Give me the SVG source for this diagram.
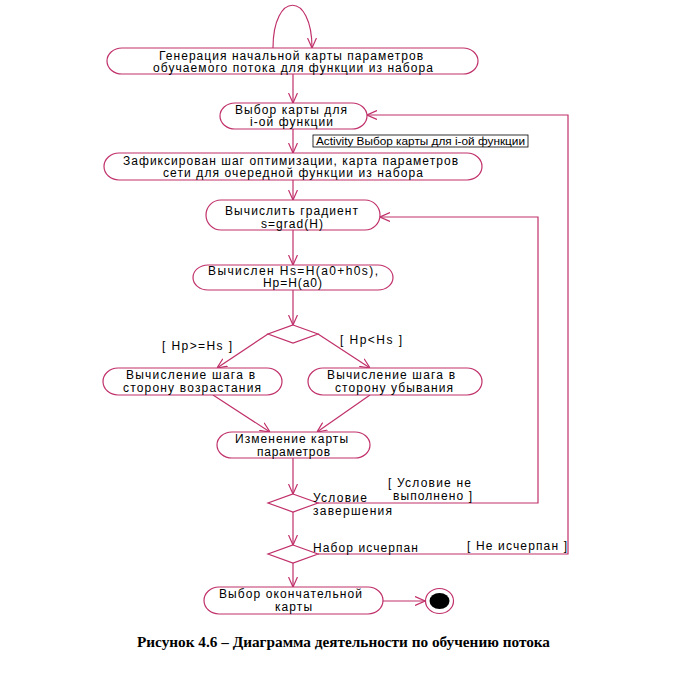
<svg xmlns="http://www.w3.org/2000/svg" width="688" height="674" viewBox="0 0 688 674">
<defs>
<style>
.n{fill:#fff;stroke:#c0306a;stroke-width:1.2}
.c{fill:none;stroke:#c0306a;stroke-width:1.2}
.t{font-family:"Liberation Sans",Arial,sans-serif;font-size:12px;fill:#000;text-anchor:middle}
.l{font-family:"Liberation Sans",Arial,sans-serif;font-size:12px;fill:#000}
.note{font-family:"Liberation Sans",Arial,sans-serif;font-size:10px;fill:#000}
.cap{font-family:"Liberation Serif","Times New Roman",serif;font-size:14.5px;font-weight:bold;fill:#000}
</style>
<marker id="a" viewBox="0 0 10 10" refX="10" refY="5" markerWidth="10" markerHeight="10" markerUnits="userSpaceOnUse" orient="auto">
<path d="M0,0.5 L10,5 L0,9.5" fill="none" stroke="#c0306a" stroke-width="1.2"/>
</marker>
</defs>
<rect width="688" height="674" fill="#fff"/>
<g id="connectors">
<path class="c" d="M273,48 C273,-9 312,-9 312,48" marker-end="url(#a)"/>
<line class="c" x1="293" y1="74" x2="293" y2="103" marker-end="url(#a)"/>
<line class="c" x1="293" y1="129" x2="293" y2="153" marker-end="url(#a)"/>
<line class="c" x1="293" y1="180" x2="293" y2="200" marker-end="url(#a)"/>
<line class="c" x1="293" y1="230" x2="293" y2="265" marker-end="url(#a)"/>
<line class="c" x1="293" y1="290" x2="293" y2="325" marker-end="url(#a)"/>
<line class="c" x1="268" y1="334" x2="217" y2="368" marker-end="url(#a)"/>
<line class="c" x1="318" y1="334" x2="370" y2="368" marker-end="url(#a)"/>
<line class="c" x1="213" y1="395" x2="270" y2="432" marker-end="url(#a)"/>
<line class="c" x1="370" y1="395" x2="317" y2="432" marker-end="url(#a)"/>
<line class="c" x1="293" y1="458" x2="293" y2="494" marker-end="url(#a)"/>
<line class="c" x1="293" y1="512" x2="293" y2="545" marker-end="url(#a)"/>
<line class="c" x1="293" y1="563" x2="293" y2="587" marker-end="url(#a)"/>
<polyline class="c" points="318,503 538,503 538,217 380,217" marker-end="url(#a)"/>
<polyline class="c" points="318,554 568,554 568,115 367,115" marker-end="url(#a)"/>
<line class="c" x1="383" y1="601" x2="425" y2="601" marker-end="url(#a)"/>
</g>
<g id="n1">
<rect class="n" x="107" y="48" width="371" height="26" rx="15" ry="13"/>
<text class="t" x="291" y="59.5" textLength="264" lengthAdjust="spacing">Генерация начальной карты параметров</text>
<text class="t" x="293" y="72" textLength="280" lengthAdjust="spacing">обучаемого потока для функции из набора</text>
</g>
<g id="n2">
<rect class="n" x="220" y="103" width="147" height="26" rx="15" ry="13"/>
<text class="t" x="291" y="113.5" textLength="112" lengthAdjust="spacing">Выбор карты для</text>
<text class="t" x="291.5" y="126" textLength="83" lengthAdjust="spacing">i-ой функции</text>
</g>
<g id="note">
<rect x="313" y="135" width="215" height="12" fill="#fff" stroke="#000" stroke-width="0.8"/>
<text class="note" x="316" y="145" textLength="209" lengthAdjust="spacingAndGlyphs">Activity Выбор карты для i-ой функции</text>
</g>
<g id="n3">
<rect class="n" x="104" y="153" width="378" height="27" rx="15" ry="13.5"/>
<text class="t" x="290.5" y="164.5" textLength="335" lengthAdjust="spacing">Зафиксирован шаг оптимизации, карта параметров</text>
<text class="t" x="293" y="177" textLength="260" lengthAdjust="spacing">сети для очередной функции из набора</text>
</g>
<g id="n4">
<rect class="n" x="206" y="200" width="174" height="30" rx="15" ry="15"/>
<text class="t" x="291.5" y="215" textLength="133" lengthAdjust="spacing">Вычислить градиент</text>
<text class="t" x="292" y="228" textLength="62" lengthAdjust="spacing">s=grad(H)</text>
</g>
<g id="n5">
<rect class="n" x="193" y="265" width="200" height="25" rx="15" ry="12.5"/>
<text class="t" x="293" y="274.5" textLength="170" lengthAdjust="spacing">Вычислен Hs=H(a0+h0s),</text>
<text class="t" x="292.5" y="287" textLength="59" lengthAdjust="spacing">Hp=H(a0)</text>
</g>
<g id="d1">
<polygon class="n" points="293,325 318,334 293,343 268,334"/>
</g>
<text class="l" x="162" y="350" textLength="70" lengthAdjust="spacing">[ Hp&gt;=Hs ]</text>
<text class="l" x="340" y="344" textLength="62" lengthAdjust="spacing">[ Hp&lt;Hs ]</text>
<g id="n6">
<rect class="n" x="103" y="368" width="179" height="27" rx="15" ry="13.5"/>
<text class="t" x="190.5" y="379" textLength="129" lengthAdjust="spacing">Вычисление шага в</text>
<text class="t" x="192" y="392" textLength="138" lengthAdjust="spacing">сторону возрастания</text>
</g>
<g id="n7">
<rect class="n" x="308" y="368" width="174" height="27" rx="15" ry="13.5"/>
<text class="t" x="391" y="379" textLength="128" lengthAdjust="spacing">Вычисление шага в</text>
<text class="t" x="394" y="392" textLength="118" lengthAdjust="spacing">сторону убывания</text>
</g>
<g id="n8">
<rect class="n" x="217" y="432" width="153" height="26" rx="15" ry="13"/>
<text class="t" x="291.5" y="443" textLength="113" lengthAdjust="spacing">Изменение карты</text>
<text class="t" x="293.5" y="455.5" textLength="73" lengthAdjust="spacing">параметров</text>
</g>
<g id="d2">
<polygon class="n" points="293,494 318,503 293,512 268,503"/>
<text class="l" x="313" y="502" textLength="54" lengthAdjust="spacing">Условие</text>
<text class="l" x="313" y="514.5" textLength="79" lengthAdjust="spacing">завершения</text>
</g>
<text class="l" x="388" y="487" textLength="83" lengthAdjust="spacing">[ Условие не</text>
<text class="l" x="393" y="500" textLength="79" lengthAdjust="spacing">выполнено ]</text>
<g id="d3">
<polygon class="n" points="293,545 318,554 293,563 268,554"/>
<text class="l" x="313" y="552" textLength="105" lengthAdjust="spacing">Набор исчерпан</text>
</g>
<text class="l" x="467" y="550" textLength="100" lengthAdjust="spacing">[ Не исчерпан ]</text>
<g id="n9">
<rect class="n" x="204" y="587" width="179" height="27" rx="15" ry="13.5"/>
<text class="t" x="290.5" y="598" textLength="143" lengthAdjust="spacing">Выбор окончательной</text>
<text class="t" x="293.5" y="611" textLength="37" lengthAdjust="spacing">карты</text>
</g>
<g id="end">
<ellipse cx="439.5" cy="601" rx="14" ry="12.5" fill="#fff" stroke="#c0306a" stroke-width="1.2"/>
<ellipse cx="439.5" cy="601" rx="10" ry="8" fill="#000"/>
</g>
<text class="cap" x="137" y="647" textLength="413" lengthAdjust="spacingAndGlyphs">Рисунок 4.6 – Диаграмма деятельности по обучению потока</text>
</svg>
